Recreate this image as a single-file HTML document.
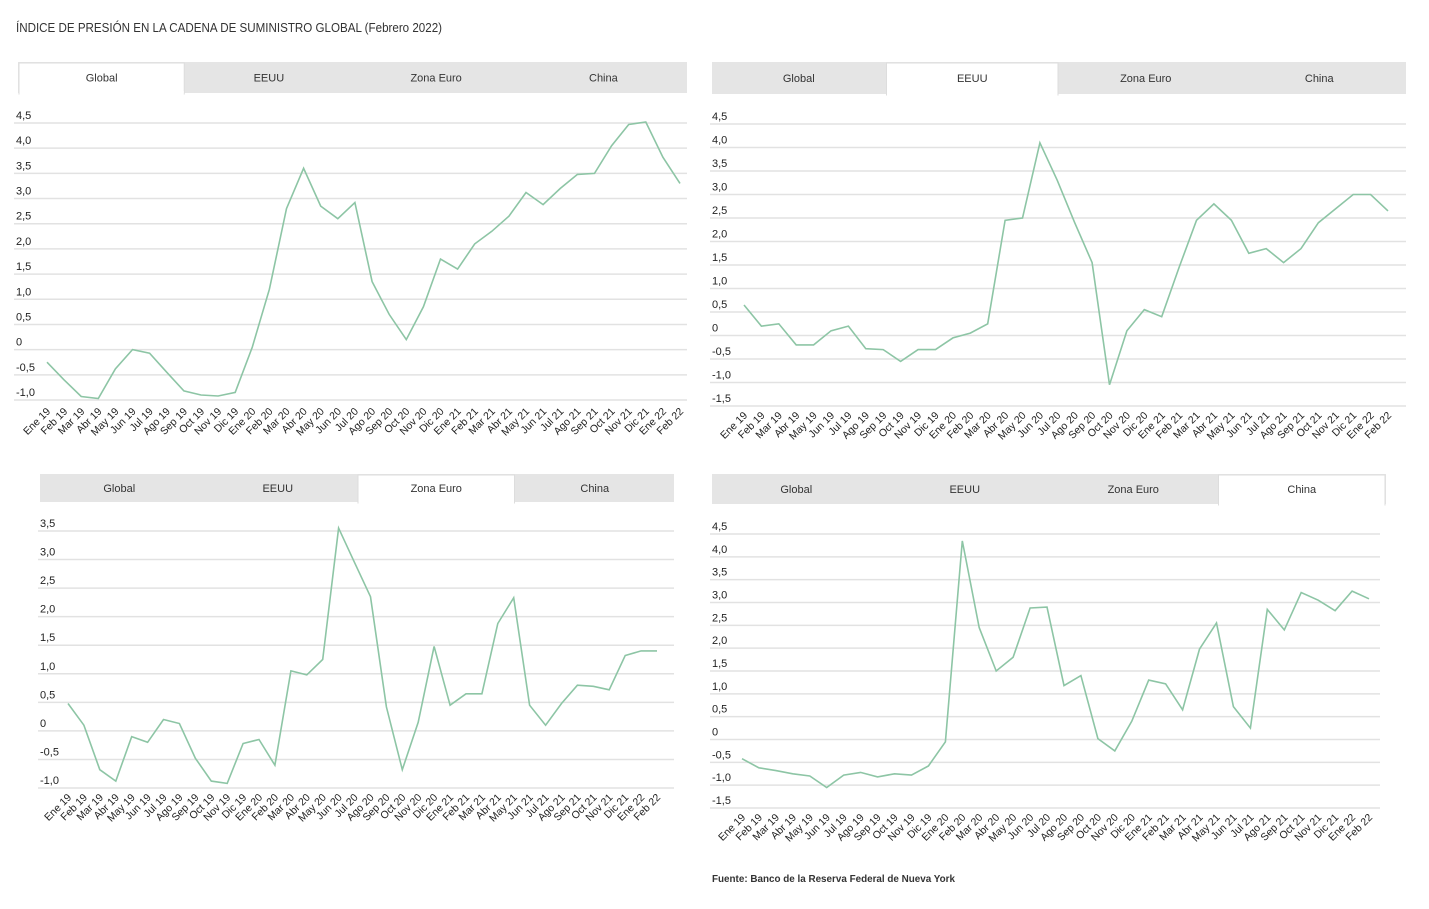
<!DOCTYPE html>
<html><head><meta charset="utf-8"><style>
body{margin:0;background:#fff;width:1429px;height:904px;overflow:hidden;font-family:"Liberation Sans",sans-serif}
</style></head><body>
<svg id="s" width="1429" height="904" xmlns="http://www.w3.org/2000/svg" font-family="Liberation Sans, sans-serif">
<text x="16" y="32" font-size="13" fill="#333" textLength="426" lengthAdjust="spacingAndGlyphs">ÍNDICE DE PRESIÓN EN LA CADENA DE SUMINISTRO GLOBAL (Febrero 2022)</text>
<text x="712" y="882" font-size="10.5" fill="#333" font-weight="bold" textLength="243" lengthAdjust="spacingAndGlyphs">Fuente: Banco de la Reserva Federal de Nueva York</text>
</svg>
<script>
const M=["Ene","Feb","Mar","Abr","May","Jun","Jul","Ago","Sep","Oct","Nov","Dic"];
const L=[];for(let y=19;y<=22;y++)for(let m=0;m<12;m++){if(y==22&&m>1)break;L.push(M[m]+" "+y);}
const tabs=["Global","EEUU","Zona Euro","China"];
const charts=[
{tx:18,ty:62,tw:669,th:31,act:0,gx0:14,gx1:687,ymax:4.5,ymin:-1,yTop:123,yBot:400,px0:47,px1:680,ly:412,
d:[-0.25,-0.6,-0.93,-0.97,-0.38,0,-0.07,-0.45,-0.82,-0.9,-0.92,-0.85,0.05,1.2,2.8,3.6,2.85,2.6,2.92,1.35,0.7,0.2,0.85,1.8,1.6,2.1,2.35,2.65,3.12,2.88,3.2,3.48,3.5,4.05,4.47,4.52,3.82,3.3]},
{tx:712,ty:62,tw:694,th:32,act:1,gx0:710,gx1:1406,ymax:4.5,ymin:-1.5,yTop:124,yBot:406,px0:744,px1:1388,ly:416,
d:[0.65,0.2,0.25,-0.2,-0.2,0.1,0.2,-0.28,-0.3,-0.55,-0.3,-0.3,-0.05,0.05,0.25,2.45,2.5,4.1,3.3,2.4,1.55,-1.05,0.1,0.55,0.4,1.45,2.45,2.8,2.45,1.75,1.85,1.55,1.85,2.4,2.7,3.0,3.0,2.65]},
{tx:40,ty:474,tw:634,th:28,act:2,gx0:38,gx1:674,ymax:3.5,ymin:-1,yTop:531,yBot:788,px0:68,px1:657,ly:798,
d:[0.48,0.1,-0.68,-0.88,-0.1,-0.2,0.2,0.13,-0.48,-0.88,-0.92,-0.22,-0.15,-0.6,1.05,0.98,1.25,3.55,2.95,2.35,0.42,-0.68,0.15,1.48,0.45,0.65,0.65,1.88,2.33,0.45,0.1,0.48,0.8,0.78,0.72,1.32,1.4,1.4]},
{tx:712,ty:474,tw:674,th:30,act:3,gx0:710,gx1:1380,ymax:4.5,ymin:-1.5,yTop:534,yBot:808,px0:742,px1:1369,ly:818,
d:[-0.42,-0.62,-0.68,-0.75,-0.8,-1.05,-0.78,-0.72,-0.82,-0.75,-0.78,-0.58,-0.05,4.35,2.45,1.5,1.8,2.88,2.9,1.18,1.4,0.02,-0.25,0.4,1.3,1.22,0.65,1.98,2.55,0.72,0.25,2.85,2.4,3.22,3.05,2.82,3.25,3.08]}
];
const s=document.getElementById('s');let h='';
for(const c of charts){
 h+=`<rect x="${c.tx}" y="${c.ty}" width="${c.tw}" height="${c.th}" fill="#e5e5e5"/>`;
 const w=c.tw/4;
 for(let i=0;i<4;i++){
  const x=c.tx+i*w;
  if(i==c.act){h+=`<rect x="${x+1}" y="${c.ty+1}" width="${w-2}" height="${c.th}" fill="#fff" stroke="#ddd"/><rect x="${x+1.5}" y="${c.ty+c.th-2}" width="${w-3}" height="4" fill="#fff"/>`;}
  h+=`<text x="${x+w/2}" y="${c.ty+c.th/2+4}" font-size="11" fill="#333" text-anchor="middle">${tabs[i]}</text>`;
 }
 const n=Math.round((c.ymax-c.ymin)/0.5);const st=(c.yBot-c.yTop)/n;
 const Y=v=>c.yTop+(c.ymax-v)/(c.ymax-c.ymin)*(c.yBot-c.yTop);
 for(let k=0;k<=n;k++){
  const v=c.ymax-k*0.5;const y=c.yTop+k*st;
  h+=`<line x1="${c.gx0}" x2="${c.gx1}" y1="${y}" y2="${y}" stroke="#e2e2e2" stroke-width="1.5"/>`;
  const t=Math.abs(v)<1e-9?"0":v.toFixed(1).replace(".",",");
  h+=`<text x="${c.gx0+2}" y="${y-4}" font-size="11" fill="#222">${t}</text>`;
 }
 const dx=(c.px1-c.px0)/37;
 h+=`<polyline fill="none" stroke="#8dc5a5" stroke-width="1.6" points="${c.d.map((v,i)=>(c.px0+i*dx).toFixed(1)+','+Y(v).toFixed(1)).join(' ')}"/>`;
 L.forEach((l,i)=>{const x=c.px0+i*dx+4;h+=`<text transform="translate(${x},${c.ly}) rotate(-45)" font-size="10.5" fill="#222" text-anchor="end">${l}</text>`;});
}
s.insertAdjacentHTML('beforeend',h);
</script>
</body></html>
